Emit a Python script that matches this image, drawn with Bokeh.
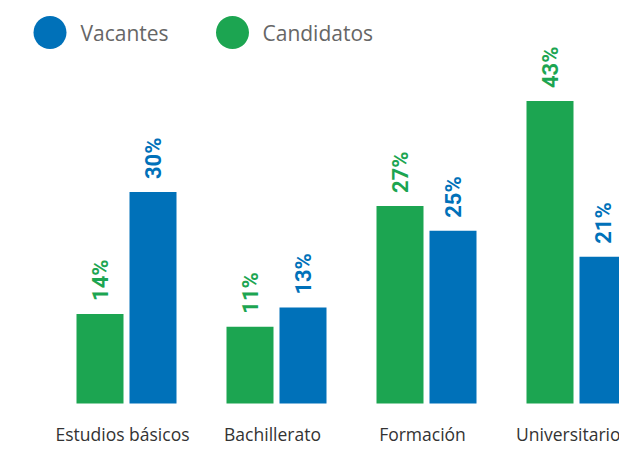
import numpy as np
from bokeh.plotting import figure
from bokeh.models import Range1d, ColumnDataSource
from bokeh.core.properties import value
from bokeh.embed import file_html
from bokeh.resources import INLINE

# ---- data ----
categories = ["Estudios básicos", "Bachillerato", "Formación\nProfesional", "Universitarios"]
candidatos = [12.7, 10.9, 28.0, 42.9]
vacantes = [30.0, 13.6, 24.5, 20.8]
candidatos_labels = ["14%", "11%", "27%", "43%"]
vacantes_labels = ["30%", "13%", "25%", "21%"]
series_names = ["Vacantes", "Candidatos"]

# ---- style ----
BLUE = "#0071b9"
GREEN = "#1ca551"
W, H = 619, 452
PX_PER_GROUP = 150.0
PX_PER_UNIT = 7.05
ORIGIN_X = 122.0   # px of first category centre
BASE_Y = 403.0     # px of the zero line


def fx(px):
    return (px - ORIGIN_X) / PX_PER_GROUP


def fy(py):
    return (BASE_Y - py) / PX_PER_UNIT


p = figure(width=W, height=H,
           x_range=Range1d(fx(0), fx(W)), y_range=Range1d(fy(H), fy(0)),
           output_backend="svg", toolbar_location=None,
           x_axis_location=None, y_axis_location=None,
           min_border=0, min_border_left=0, min_border_right=0,
           min_border_top=0, min_border_bottom=0,
           outline_line_color=None, background_fill_color="white",
           border_fill_color="white")
p.grid.visible = False

xs = np.arange(len(categories), dtype=float)
bar_w = 47 / PX_PER_GROUP
off_g = -22.5 / PX_PER_GROUP
off_b = 30.5 / PX_PER_GROUP

src = ColumnDataSource(dict(
    xg=xs + off_g, xb=xs + off_b,
    cand=candidatos, vac=vacantes,
    cl=candidatos_labels, vl=vacantes_labels,
    x=xs, cat=categories,
))

p.vbar(x="xg", top="cand", bottom=0, width=bar_w, source=src,
       fill_color=GREEN, line_color=None)
p.vbar(x="xb", top="vac", bottom=0, width=bar_w, source=src,
       fill_color=BLUE, line_color=None)

common = dict(angle=np.pi / 2, text_align="left", text_baseline="middle",
              y_offset=-13, text_font=value("Roboto"), text_font_style="bold",
              text_font_size="22px", source=src)
p.text(x="xg", y="cand", text="cl", text_color=GREEN, **common)
p.text(x="xb", y="vac", text="vl", text_color=BLUE, **common)

p.text(x="x", y=0, text="cat", text_align="center", text_baseline="top",
       y_offset=18, text_font=value("Open Sans"), text_font_size="17.5px",
       text_color="#333333", text_line_height=1.25, source=src)

# legend
leg_x = [fx(49.5), fx(232)]
leg_tx = [fx(80), fx(262)]
leg_y = [fy(32), fy(32)]
leg = ColumnDataSource(dict(x=leg_x, tx=leg_tx, y=leg_y, c=[BLUE, GREEN], t=series_names))
p.scatter(x="x", y="y", size=33, marker="circle", fill_color="c", line_color=None, source=leg)
p.text(x="tx", y="y", text="t", text_align="left", text_baseline="middle",
       text_font=value("Open Sans"), text_font_size="21px", text_color="#666666", source=leg)

open("out.html", "w").write(file_html(p, INLINE))
